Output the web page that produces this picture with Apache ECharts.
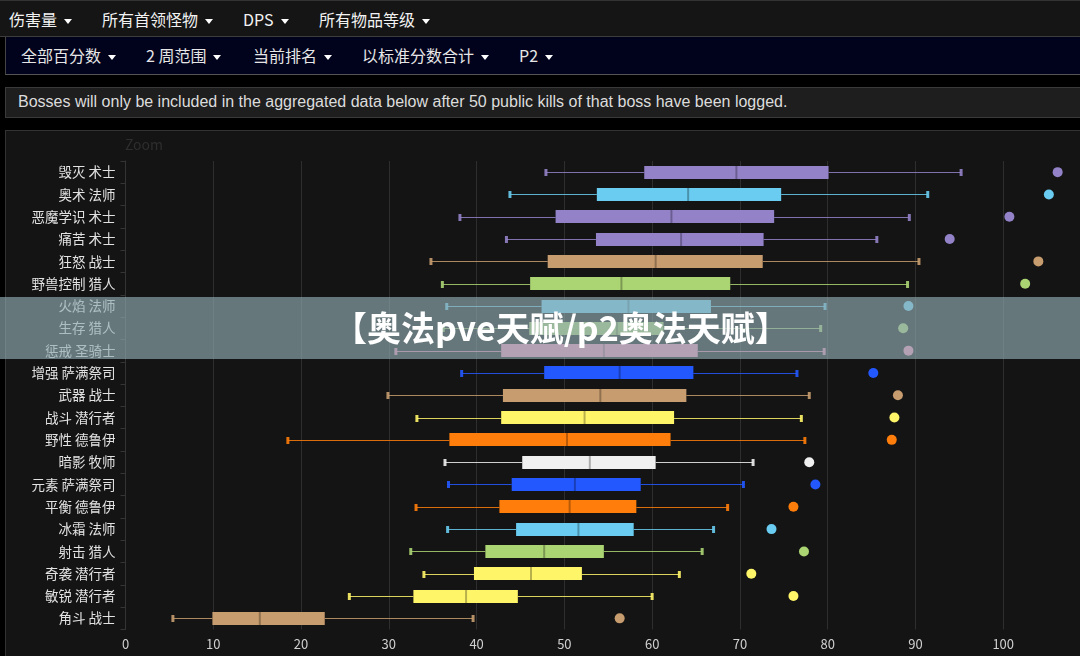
<!DOCTYPE html>
<html>
<head>
<meta charset="utf-8">
<script src="https://cdn.jsdelivr.net/npm/echarts@6/dist/echarts.min.js"></script>
<style>
  html, body { margin: 0; padding: 0; }
  body {
    width: 1080px; height: 656px; overflow: hidden; position: relative;
    background: #000; font-family: "Noto Sans CJK SC", "Noto Sans", sans-serif;
  }
  .bar { position: absolute; box-sizing: border-box; }
  .bar span.item { position: absolute; top: 0; white-space: nowrap; }
  .caret {
    display: inline-block; width: 0; height: 0; margin-left: 7px; vertical-align: middle;
    border-left: 4px solid transparent; border-right: 4px solid transparent; border-top: 5px solid #fff;
  }
  #menu1 { left: 0; top: 0; width: 1080px; height: 37px; background: #151515;
    border-top: 1px solid #333; border-bottom: 1px solid #3c3c3c; color: #f2f2f2; font-size: 16px; line-height: 36px; }
  #menu2 { left: 5px; top: 37px; width: 1075px; height: 38px; background: #01031d;
    border-left: 1px solid #444; border-bottom: 1px solid #555; color: #e6e6e6; font-size: 16px; line-height: 36px; }
  #notice { left: 5px; top: 87px; width: 1075px; height: 31px; background: #1e1e1e;
    border: 1px solid #3a3a3a; border-right: none; color: #dcdcdc; font-family: "Liberation Sans", Arial, sans-serif;
    font-size: 16px; line-height: 28px; padding-left: 12px; }
  #panel { left: 5px; top: 130px; width: 1100px; height: 540px; background: #141414;
    border-top: 1px solid #333; border-left: 1px solid #333; }
  #chart { position: absolute; left: 0; top: 130px; width: 1110px; height: 526px; }
  #banner { left: 0; top: 297px; width: 1080px; height: 62px; background: rgba(145, 172, 178, 0.66);
    color: #fff; font-weight: bold; font-size: 34px; line-height: 60px; z-index: 5; }
  #banner span { position: absolute; left: 333px; top: 0; }
</style>
</head>
<body>
<div class="bar" id="menu1">
  <span class="item" style="left:9px">伤害量<i class="caret"></i></span>
  <span class="item" style="left:102px">所有首领怪物<i class="caret"></i></span>
  <span class="item" style="left:243px">DPS<i class="caret"></i></span>
  <span class="item" style="left:319px">所有物品等级<i class="caret"></i></span>
</div>
<div class="bar" id="menu2">
  <span class="item" style="left:15px">全部百分数<i class="caret"></i></span>
  <span class="item" style="left:140px">2 周范围<i class="caret"></i></span>
  <span class="item" style="left:247px">当前排名<i class="caret"></i></span>
  <span class="item" style="left:356px">以标准分数合计<i class="caret"></i></span>
  <span class="item" style="left:513px">P2<i class="caret"></i></span>
</div>
<div class="bar" id="notice">Bosses will only be included in the aggregated data below after 50 public kills of that boss have been logged.</div>
<div class="bar" id="panel"></div>
<div id="chart"></div>
<div class="bar" id="banner"><span>【奥法pve天赋/p2奥法天赋】</span></div>

<script>
// spec labels, top to bottom
const categories = [
  '毁灭 术士', '奥术 法师', '恶魔学识 术士', '痛苦 术士', '狂怒 战士', '野兽控制 猎人',
  '火焰 法师', '生存 猎人', '惩戒 圣骑士', '增强 萨满祭司', '武器 战士', '战斗 潜行者',
  '野性 德鲁伊', '暗影 牧师', '元素 萨满祭司', '平衡 德鲁伊', '冰霜 法师', '射击 猎人',
  '奇袭 潜行者', '敏锐 潜行者', '角斗 战士'
]
const whiskerLow  = [47.9, 43.8, 38.1, 43.4, 34.8, 36.1, 36.6, 36.2, 30.8, 38.3, 29.9, 33.2, 18.5, 36.4, 36.8, 33.1, 36.7, 32.5, 34.0, 25.5, 5.4]
const q1          = [59.1, 53.7, 49.0, 53.6, 48.1, 46.1, 47.4, 46.0, 42.8, 47.7, 43.0, 42.8, 36.9, 45.2, 44.0, 42.6, 44.5, 41.0, 39.7, 32.8, 9.9]
const median      = [69.6, 64.1, 62.2, 63.3, 60.4, 56.5, 57.3, 56.0, 54.5, 56.3, 54.1, 52.3, 50.3, 52.9, 51.2, 50.6, 51.6, 47.7, 46.2, 38.8, 15.3]
const q3          = [80.1, 74.7, 73.9, 72.7, 72.6, 68.9, 66.7, 61.3, 65.2, 64.7, 63.9, 62.5, 62.1, 60.4, 58.7, 58.2, 57.9, 54.5, 52.0, 44.7, 22.7]
const whiskerHigh = [95.2, 91.4, 89.3, 85.6, 90.4, 89.1, 79.7, 79.2, 79.6, 76.5, 77.9, 77.0, 77.4, 71.5, 70.4, 68.6, 67.0, 65.7, 63.1, 60.0, 39.6]
const topScore    = [106.2, 105.2, 100.7, 93.9, 104.0, 102.5, 89.2, 88.6, 89.2, 85.2, 88.0, 87.6, 87.3, 77.9, 78.6, 76.1, 73.6, 77.3, 71.3, 76.1, 56.3]
const xTicks = { min: 0, max: 110, interval: 10 }

const classColors = {
  '术士': '#9482c9', '法师': '#69ccf0', '战士': '#c79c6e', '猎人': '#abd473',
  '圣骑士': '#f58cba', '萨满祭司': '#2358ff', '潜行者': '#fff569', '德鲁伊': '#ff7d0a', '牧师': '#f0f0f0'
}
const colorOf = (i) => classColors[categories[i].split(' ')[1]]

const boxData = categories.map((c, i) => [i, whiskerLow[i], q1[i], median[i], q3[i], whiskerHigh[i]])
const dotData = categories.map((c, i) => ({ value: [topScore[i], i], itemStyle: { color: colorOf(i), opacity: 1 } }))

function renderBox(params, api) {
  const i = api.value(0)
  const color = colorOf(i)
  const band = api.size([0, 1])[1]
  const h = Math.round(band * 0.6)
  const pLow = api.coord([api.value(1), i])
  const pQ1 = api.coord([api.value(2), i])
  const pMed = api.coord([api.value(3), i])
  const pQ3 = api.coord([api.value(4), i])
  const pHigh = api.coord([api.value(5), i])
  const y = Math.round(pQ1[1]) + 0.5
  const top = Math.round(pQ1[1] - h / 2)
  return {
    type: 'group',
    children: [
      { type: 'line', shape: { x1: pLow[0], y1: y, x2: pQ1[0], y2: y }, style: { stroke: color, lineWidth: 1, opacity: 0.85 } },
      { type: 'line', shape: { x1: pQ3[0], y1: y, x2: pHigh[0], y2: y }, style: { stroke: color, lineWidth: 1, opacity: 0.85 } },
      { type: 'rect', shape: { x: pLow[0] - 1.5, y: y - 3.5, width: 3, height: 7 }, style: { fill: color, opacity: 0.9 } },
      { type: 'rect', shape: { x: pHigh[0] - 1.5, y: y - 3.5, width: 3, height: 7 }, style: { fill: color, opacity: 0.9 } },
      { type: 'rect', shape: { x: pQ1[0], y: top, width: pQ3[0] - pQ1[0], height: h }, style: { fill: color } },
      { type: 'line', shape: { x1: pMed[0], y1: top, x2: pMed[0], y2: top + h }, style: { stroke: 'rgba(0,0,0,0.28)', lineWidth: 2 } }
    ]
  }
}

const chart = echarts.init(document.getElementById('chart'))
chart.setOption({
  backgroundColor: 'transparent',
  animation: false,
  textStyle: { fontFamily: '"Noto Sans CJK SC", "Noto Sans", sans-serif' },
  title: {
    text: 'Zoom', left: 120, top: 3,
    textStyle: { color: '#2e2e2e', fontSize: 14, fontWeight: 'normal' }
  },
  grid: { left: 125.5, right: 19, top: 31, bottom: 26.5 },
  xAxis: {
    type: 'value', min: xTicks.min, max: xTicks.max, interval: xTicks.interval,
    axisLine: { show: false },
    axisTick: { show: false },
    axisLabel: { color: '#d0d0d0', fontSize: 13, margin: 8, showMaxLabel: true, hideOverlap: false },
    splitLine: { lineStyle: { color: '#2e2e2e', width: 1 } }
  },
  yAxis: {
    type: 'category', data: categories, inverse: true,
    axisLine: { show: true, lineStyle: { color: '#343434' } },
    axisTick: { show: true, length: 5, lineStyle: { color: '#343434' } },
    axisLabel: { color: '#e2e2e2', fontSize: 13.5, margin: 10 },
    splitLine: { show: false }
  },
  series: [
    {
      type: 'custom',
      renderItem: renderBox,
      encode: { x: [1, 2, 3, 4, 5], y: 0 },
      data: boxData
    },
    {
      type: 'scatter',
      symbol: 'circle',
      symbolSize: 10,
      data: dotData
    }
  ]
})
</script>
</body>
</html>
